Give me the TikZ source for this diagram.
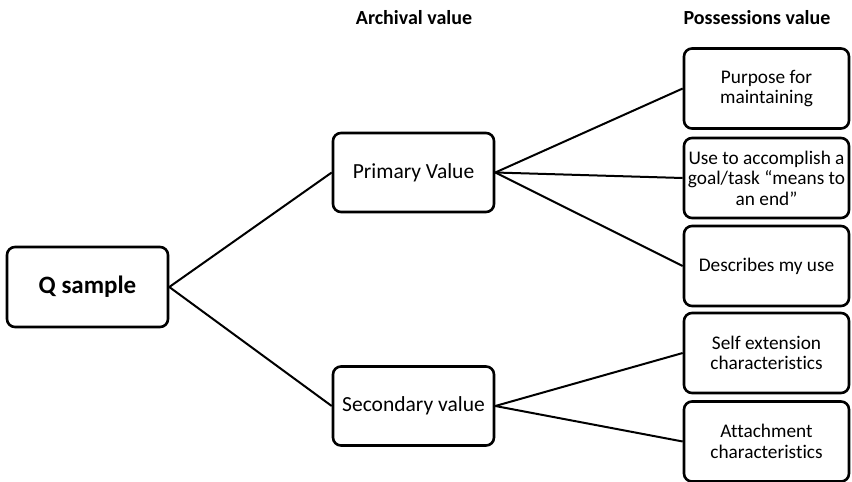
\documentclass[tikz,border=0pt]{standalone}
\usepackage{fontspec}
\setmainfont{Carlito}[Ligatures={NoCommon}]
\begin{document}
\begin{tikzpicture}[x=1pt,y=-1pt,
  box/.style={draw=black, line width=2.6pt, rounded corners=8pt, fill=white,
    align=center, inner sep=0pt},
  qbox/.style={box, minimum width=161pt, minimum height=80pt, font=\fontsize{25}{30}\selectfont\bfseries},
  midbox/.style={box, minimum width=161pt, minimum height=79pt, font=\fontsize{21.5}{26}\selectfont},
  leafbox/.style={box, minimum width=165pt, minimum height=80pt, font=\fontsize{19.3}{20.5}\selectfont},
  head/.style={font=\fontsize{20}{24}\selectfont\bfseries},
  link/.style={draw=black, line width=2pt}]
\useasboundingbox (0,0) rectangle (852,482);
% column headings
\node[head] (hA) at (414,18) {Archival value};
\node[head] (hP) at (757,18) {Possessions value};
% nodes
\node[qbox] (q) at (87.5,287) {Q sample};
\node[midbox] (prim) at (413.5,172.5) {Primary Value};
\node[midbox] (sec) at (413.5,406) {Secondary value};
\node[leafbox] (l1) at (766.5,88.5) {Purpose for\\maintaining};
\node[leafbox] (l2) at (766.5,178) {Use to accomplish a\\goal/task “means to\\an end”};
\node[leafbox] (l3) at (766.5,266) {Describes my use};
\node[leafbox] (l4) at (766.5,353) {Self extension\\characteristics};
\node[leafbox] (l5) at (766.5,441.5) {Attachment\\characteristics};
% connectors
\draw[link] (q.east) -- (prim.west);
\draw[link] (q.east) -- (sec.west);
\draw[link] (prim.east) -- (l1.west);
\draw[link] (prim.east) -- (l2.west);
\draw[link] (prim.east) -- (l3.west);
\draw[link] (sec.east) -- (l4.west);
\draw[link] (sec.east) -- (l5.west);
\end{tikzpicture}
\end{document}
